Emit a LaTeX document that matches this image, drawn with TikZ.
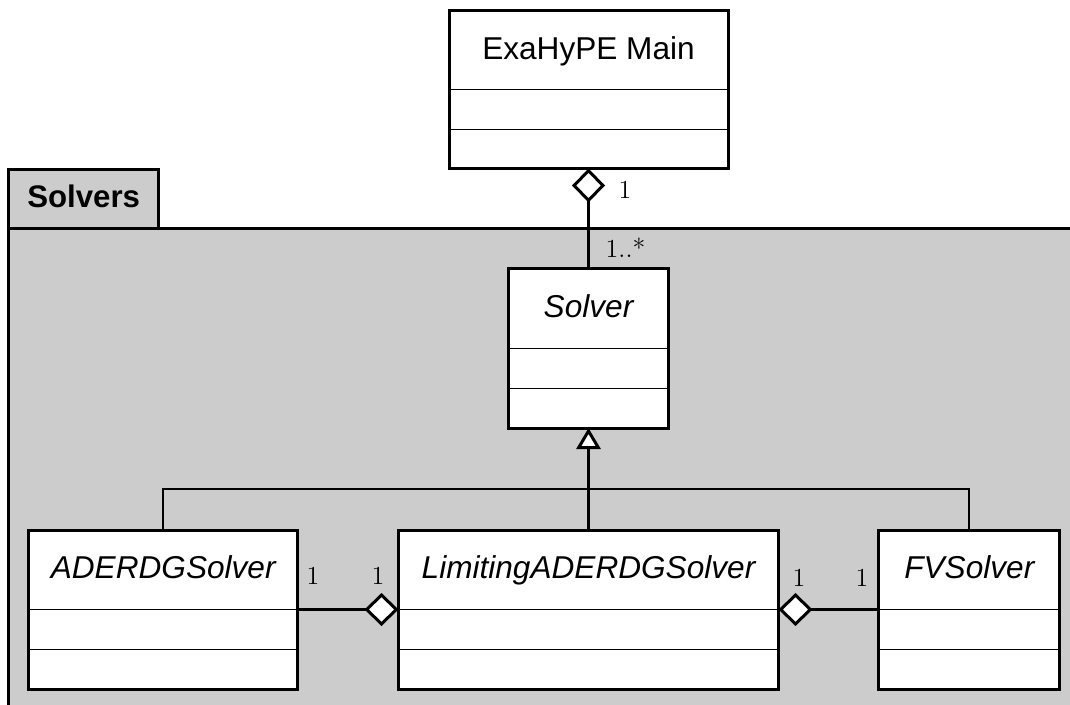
\documentclass[tikz,border=0pt]{standalone}
\usepackage{fontspec}
\newfontfamily\umlsans{Liberation Sans}
\usetikzlibrary{arrows.meta}
\definecolor{pkgfill}{RGB}{204,204,204}
\begin{document}
\begin{tikzpicture}[x=0.5pt, y=-0.5pt,
  umlclass/.style 2 args={draw, line width=1.5pt, fill=white, inner sep=0pt, outer sep=0pt,
    minimum width=#1*0.5pt, minimum height=#2*0.5pt},
  classname/.style={font=\umlsans\fontsize{15.8}{18}\selectfont, anchor=base, inner sep=0pt},
  abstractname/.style={classname, font=\umlsans\itshape\fontsize{15.8}{18}\selectfont},
  pkgname/.style={font=\umlsans\bfseries\fontsize{15.6}{18}\selectfont, anchor=base, inner sep=0pt},
  compsep/.style={line width=0.7pt},
  mult/.style={font=\fontsize{13}{15}\selectfont, anchor=base, inner sep=0pt},
  assoc/.style={line width=1.1pt},
  aggregation/.style={assoc, -{Diamond[fill=white, line width=1.5pt, length=17pt, width=16.5pt]}},
  generalization/.style={assoc, -{Triangle[fill=white, line width=1.5pt, length=10.5pt, width=12pt]}},
  pkg/.style={draw, line width=1.5pt, fill=pkgfill},
]
\useasboundingbox (0,0) rectangle (1070,705);
\fill[white] (0,0) rectangle (1070,705);

% package "Solvers": tab and body (body runs past the page edges)
\begin{scope}
  \clip (0,0) rectangle (1070,705);
  \path[pkg] (8.7,228.7) rectangle (1100,730);
  \path[pkg] (8.7,169.3) rectangle (158.7,228.7);
\end{scope}
\node[pkgname] (pkgName) at (83.7,207.3) {Solvers};

% classes: name compartment plus two empty compartments
\node[umlclass={279}{158}] (main) at (588.5,89.5) {};
\node[classname] (mainName) at ([yshift=-24.4pt]main.north) {ExaHyPE Main};
\draw[compsep] (main.west) -- (main.east);
\draw[compsep] ([yshift=-20pt]main.west) -- ([yshift=-20pt]main.east);

\node[umlclass={160}{159}] (solver) at (588.5,348.5) {};
\node[abstractname] (solverName) at ([yshift=-24.4pt]solver.north) {Solver};
\draw[compsep] (solver.west) -- (solver.east);
\draw[compsep] ([yshift=-20pt]solver.west) -- ([yshift=-20pt]solver.east);

\node[umlclass={269.5}{159}] (ader) at (163.2,609.5) {};
\node[abstractname] (aderName) at ([yshift=-24.4pt]ader.north) {ADERDGSolver};
\draw[compsep] (ader.west) -- (ader.east);
\draw[compsep] ([yshift=-20pt]ader.west) -- ([yshift=-20pt]ader.east);

\node[umlclass={380}{159}] (lim) at (588.5,609.5) {};
\node[abstractname] (limName) at ([yshift=-24.4pt]lim.north) {LimitingADERDGSolver};
\draw[compsep] (lim.west) -- (lim.east);
\draw[compsep] ([yshift=-20pt]lim.west) -- ([yshift=-20pt]lim.east);

\node[umlclass={181.3}{159}] (fv) at (969.3,609.5) {};
\node[abstractname] (fvName) at ([yshift=-24.4pt]fv.north) {FVSolver};
\draw[compsep] (fv.west) -- (fv.east);
\draw[compsep] ([yshift=-20pt]fv.west) -- ([yshift=-20pt]fv.east);

% generalization tree
\coordinate (gjoin) at (588.5,489);
\draw[assoc] (ader.north) |- (gjoin) -| (fv.north);
\draw[generalization] (lim.north) -- (solver.south);

% aggregations
\draw[aggregation] (solver.north) -- (main.south);
\draw[aggregation] (ader.east) -- (lim.west);
\draw[aggregation] (fv.west) -- (lim.east);

% multiplicities
\node[mult] (mMain) at (625,199) {1};
\node[mult] (mSolver) at (625.5,258) {1..*};
\node[mult] (mAderL) at (313,584.5) {1};
\node[mult] (mAderR) at (378,584.5) {1};
\node[mult] (mFvL) at (799,586) {1};
\node[mult] (mFvR) at (862,586) {1};
\end{tikzpicture}
\end{document}
